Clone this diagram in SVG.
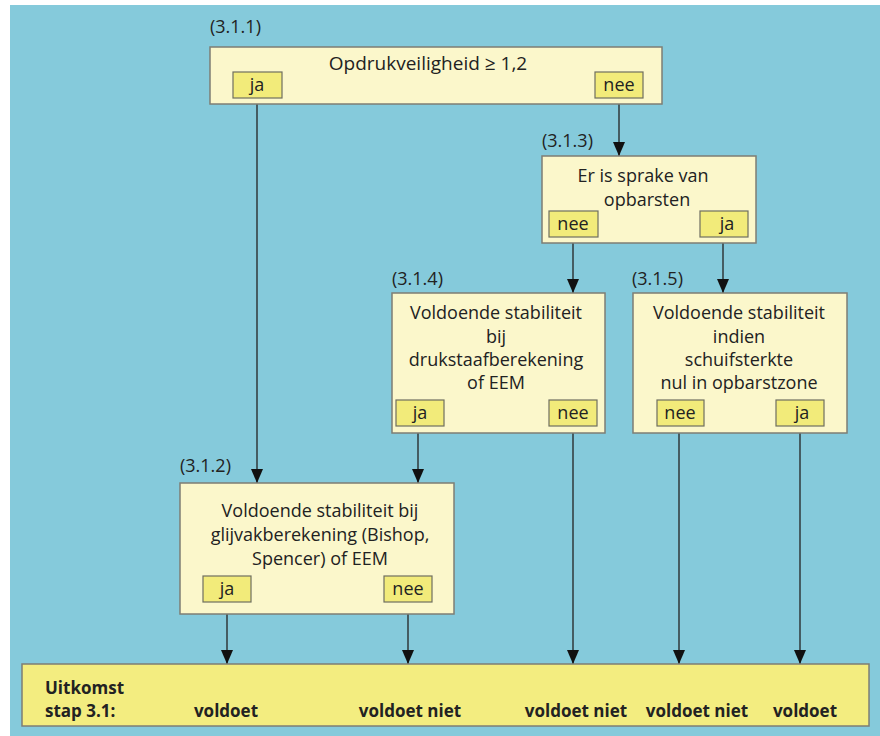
<svg xmlns="http://www.w3.org/2000/svg" width="880" height="736" viewBox="0 0 880 736">
<defs>
<style>
.box{fill:#FBF7CB;stroke:#7E7E74;stroke-width:1.5}
.lbl{fill:#F2EB7A;stroke:#6E6E60;stroke-width:1.2}
.t{font-family:"Open Sans","Liberation Sans",sans-serif;font-size:18px;fill:#222}
.m{text-anchor:middle}
.b{font-weight:bold;font-size:17px}
.c{stroke:#222;stroke-width:1.3;fill:none;marker-end:url(#ah)}
</style>
<marker id="ah" markerUnits="userSpaceOnUse" markerWidth="14" markerHeight="12" viewBox="0 0 14 12" refX="14" refY="6" orient="auto">
<path d="M0,0 L14,6 L0,12 Z" fill="#111"/>
</marker>
</defs>
<rect x="0" y="0" width="880" height="736" fill="#fff"/>
<rect x="10" y="5" width="870" height="731" fill="#85CADB"/>

<g id="connectors">
<line class="c" x1="257" y1="104" x2="257" y2="483"/>
<line class="c" x1="619" y1="104" x2="619" y2="156"/>
<line class="c" x1="573" y1="243" x2="573" y2="293"/>
<line class="c" x1="723" y1="243" x2="723" y2="293"/>
<line class="c" x1="418" y1="433" x2="418" y2="483"/>
<line class="c" x1="573" y1="433" x2="573" y2="664"/>
<line class="c" x1="679" y1="433" x2="679" y2="664"/>
<line class="c" x1="800" y1="433" x2="800" y2="664"/>
<line class="c" x1="227" y1="614" x2="227" y2="664"/>
<line class="c" x1="408" y1="614" x2="408" y2="664"/>
</g>

<g id="n311">
<text class="t" x="210" y="33">(3.1.1)</text>
<rect class="box" x="210" y="47" width="452" height="57"/>
<text class="t m" x="428" y="70" style="font-size:19px">Opdrukveiligheid ≥ 1,2</text>
<rect class="lbl" x="233" y="72" width="49" height="26"/>
<text class="t m" x="257" y="91">ja</text>
<rect class="lbl" x="595" y="72" width="48" height="26"/>
<text class="t m" x="619" y="91">nee</text>
</g>

<g id="n313">
<text class="t" x="542" y="147">(3.1.3)</text>
<rect class="box" x="542" y="156" width="214" height="87"/>
<text class="t m" x="643" y="182">Er is sprake van</text>
<text class="t m" x="647" y="206">opbarsten</text>
<rect class="lbl" x="549" y="211" width="49" height="26"/>
<text class="t m" x="573" y="230">nee</text>
<rect class="lbl" x="700" y="211" width="48" height="26"/>
<text class="t m" x="727" y="230">ja</text>
</g>

<g id="n314">
<text class="t" x="392" y="285">(3.1.4)</text>
<rect class="box" x="392" y="293" width="213" height="140"/>
<text class="t m" x="496" y="319">Voldoende stabiliteit</text>
<text class="t m" x="496" y="343">bij</text>
<text class="t m" x="496" y="366">drukstaafberekening</text>
<text class="t m" x="496" y="389">of EEM</text>
<rect class="lbl" x="396" y="400" width="48" height="26"/>
<text class="t m" x="420" y="419">ja</text>
<rect class="lbl" x="549" y="400" width="48" height="26"/>
<text class="t m" x="573" y="419">nee</text>
</g>

<g id="n315">
<text class="t" x="632" y="285">(3.1.5)</text>
<rect class="box" x="633" y="293" width="214" height="140"/>
<text class="t m" x="739" y="319">Voldoende stabiliteit</text>
<text class="t m" x="739" y="343">indien</text>
<text class="t m" x="739" y="366">schuifsterkte</text>
<text class="t m" x="739" y="389">nul in opbarstzone</text>
<rect class="lbl" x="657" y="400" width="47" height="26"/>
<text class="t m" x="680" y="419">nee</text>
<rect class="lbl" x="776" y="400" width="48" height="26"/>
<text class="t m" x="802" y="419">ja</text>
</g>

<g id="n312">
<text class="t" x="180" y="472">(3.1.2)</text>
<rect class="box" x="180" y="483" width="274" height="131"/>
<text class="t m" x="320" y="517">Voldoende stabiliteit bij</text>
<text class="t m" x="320" y="541">glijvakberekening (Bishop,</text>
<text class="t m" x="320" y="565">Spencer) of EEM</text>
<rect class="lbl" x="203" y="576" width="48" height="26"/>
<text class="t m" x="227" y="595">ja</text>
<rect class="lbl" x="384" y="576" width="48" height="26"/>
<text class="t m" x="408" y="595">nee</text>
</g>

<g id="uitkomst">
<rect x="22" y="664" width="847" height="62" fill="#F3ED80" stroke="#7E7E74" stroke-width="1.5"/>
<text class="t b" x="45" y="694">Uitkomst</text>
<text class="t b" x="45" y="717">stap 3.1:</text>
<text class="t b m" x="226" y="717">voldoet</text>
<text class="t b m" x="410" y="717">voldoet niet</text>
<text class="t b m" x="576" y="717">voldoet niet</text>
<text class="t b m" x="697" y="717">voldoet niet</text>
<text class="t b m" x="805" y="717">voldoet</text>
</g>
</svg>
